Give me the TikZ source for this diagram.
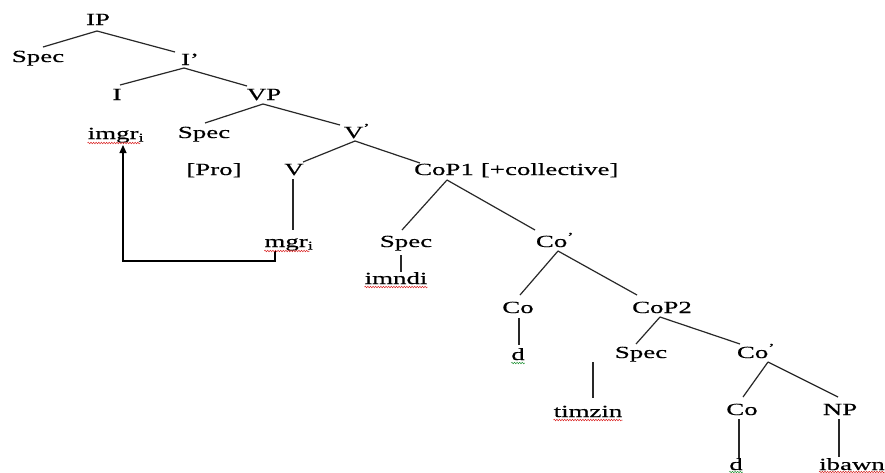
\documentclass[tikz,border=0pt]{standalone}
\usepackage{fontspec}
\setmainfont{Liberation Serif}[FakeStretch=1.58,FakeBold=0.4]
\usetikzlibrary{arrows.meta,decorations.pathmorphing}
\definecolor{linegray}{RGB}{40,40,40}
\definecolor{spellred}{RGB}{220,40,40}
\definecolor{spellgreen}{RGB}{40,150,60}
\tikzset{
  lbl/.style={inner sep=0pt, anchor=base, font=\fontsize{17}{20}\selectfont},
  branch/.style={draw=linegray, line width=1.2pt},
  movearrow/.style={draw=black, line width=1.2pt, -{Triangle[length=8pt,width=7pt]}},
  squig/.style={draw=#1, line width=0.5pt, decorate, decoration={snake, amplitude=0.8pt, segment length=2.6pt}}
}
\begin{document}
\begin{tikzpicture}[x=1pt,y=-1pt]
\useasboundingbox[fill=white] (0,0) rectangle (885,472);
% nodes
\node[lbl] (ip) at (98,25) {IP};
\node[lbl] (spec1) at (38,62) {Spec};
\node[lbl] (ibar) at (190,65) {I'};
\node[lbl] (i) at (117,100) {I};
\node[lbl] (vp) at (264,100) {VP};
\node[lbl] (imgr) at (116,139) {imgr\textsubscript{i}};
\node[lbl] (spec2) at (204,138) {Spec};
\node[lbl] (vbar) at (357,138) {V\textsuperscript{'}};
\node[lbl] (pro) at (214,175) {[Pro]};
\node[lbl] (v) at (294,175) {V};
\node[lbl] (cop1) at (444,175) {CoP1};
\node[lbl, anchor=base west] (coll) at ([xshift=6.7pt]cop1.base east) {[+collective]};
\node[lbl] (mgr) at (289,247) {mgr\textsubscript{i}};
\node[lbl] (spec3) at (406,247) {Spec};
\node[lbl] (co1bar) at (555,247) {Co\textsuperscript{'}};
\node[lbl] (imndi) at (396,284) {imndi};
\node[lbl] (co1) at (518,313) {Co};
\node[lbl] (cop2) at (662,313) {CoP2};
\node[lbl] (d1) at (518,360) {d};
\node[lbl] (spec4) at (641,358) {Spec};
\node[lbl] (co2bar) at (756,358) {Co\textsuperscript{'}};
\node[lbl] (timzin) at (588,417) {timzin};
\node[lbl] (co3) at (742,415) {Co};
\node[lbl] (np) at (840,415) {NP};
\node[lbl] (d3) at (736,470) {d};
\node[lbl] (ibawn) at (852,470) {ibawn};
% branches
\draw[branch] ([shift={(-1,6)}]ip.base) -- ([shift={(5,-15)}]spec1.base);
\draw[branch] ([shift={(-1,6)}]ip.base) -- ([shift={(-15,-13)}]ibar.base);
\draw[branch] ([shift={(-6,3)}]ibar.base) -- ([shift={(3,-15)}]i.base);
\draw[branch] ([shift={(-6,3)}]ibar.base) -- ([shift={(-17,-14)}]vp.base);
\draw[branch] ([shift={(-1,4)}]vp.base) -- ([shift={(1,-15)}]spec2.base);
\draw[branch] ([shift={(-1,4)}]vp.base) -- ([shift={(-17,-13)}]vbar.base);
\draw[branch] ([shift={(-2,3)}]vbar.base) -- ([shift={(9,-13)}]v.base);
\draw[branch] ([shift={(-2,3)}]vbar.base) -- ([shift={(-24,-12)}]cop1.base);
\draw[branch] ([shift={(-1,4)}]v.base) -- ([shift={(4,-17)}]mgr.base);
\draw[branch] ([shift={(3,5)}]cop1.base) -- ([shift={(-4,-17)}]spec3.base);
\draw[branch] ([shift={(3,5)}]cop1.base) -- ([shift={(-20,-17)}]co1bar.base);
\draw[branch] ([shift={(-5,8)}]spec3.base) -- ([shift={(5,-12)}]imndi.base);
\draw[branch] ([shift={(3,4)}]co1bar.base) -- ([shift={(2,-18)}]co1.base);
\draw[branch] ([shift={(3,4)}]co1bar.base) -- ([shift={(-25,-18)}]cop2.base);
\draw[branch] ([shift={(1,5)}]co1.base) -- ([shift={(1,-15)}]d1.base);
\draw[branch] ([shift={(-2,4)}]cop2.base) -- ([shift={(-5,-14)}]spec4.base);
\draw[branch] ([shift={(-2,4)}]cop2.base) -- ([shift={(-16,-14)}]co2bar.base);
\draw[branch] ([shift={(12,4)}]co2bar.base) -- ([shift={(1,-18)}]co3.base);
\draw[branch] ([shift={(12,4)}]co2bar.base) -- ([shift={(-2,-18)}]np.base);
\draw[branch] ([shift={(-3,4)}]co3.base) -- ([shift={(3,-12)}]d3.base);
\draw[branch] ([shift={(-1,4)}]np.base) -- ([shift={(-13,-13)}]ibawn.base);
\coordinate (tztop) at ([shift={(5,-55)}]timzin.base);
\draw[branch] (tztop) -- ([shift={(5,-19)}]timzin.base);
% movement arrow
\draw[movearrow] ([shift={(-14,4)}]mgr.base) -- ++(0,10) -| ([shift={(7,6)}]imgr.base);
% spell-check underlines
\draw[squig=spellred] ([shift={(0,4)}]imgr.base west) -- ([shift={(-4,4)}]imgr.base east);
\draw[squig=spellred] ([shift={(0,4)}]mgr.base west) -- ([shift={(-4,4)}]mgr.base east);
\draw[squig=spellred] ([shift={(0,3)}]imndi.base west) -- ([shift={(0,3)}]imndi.base east);
\draw[squig=spellred] ([shift={(0,3)}]timzin.base west) -- ([shift={(0,3)}]timzin.base east);
\draw[squig=spellred] ([shift={(0,2)}]ibawn.base west) -- ([shift={(0,2)}]ibawn.base east);
\draw[squig=spellgreen] ([shift={(0,3)}]d1.base west) -- ([shift={(0,3)}]d1.base east);
\draw[squig=spellgreen] ([shift={(0,2)}]d3.base west) -- ([shift={(0,2)}]d3.base east);
\end{tikzpicture}
\end{document}
